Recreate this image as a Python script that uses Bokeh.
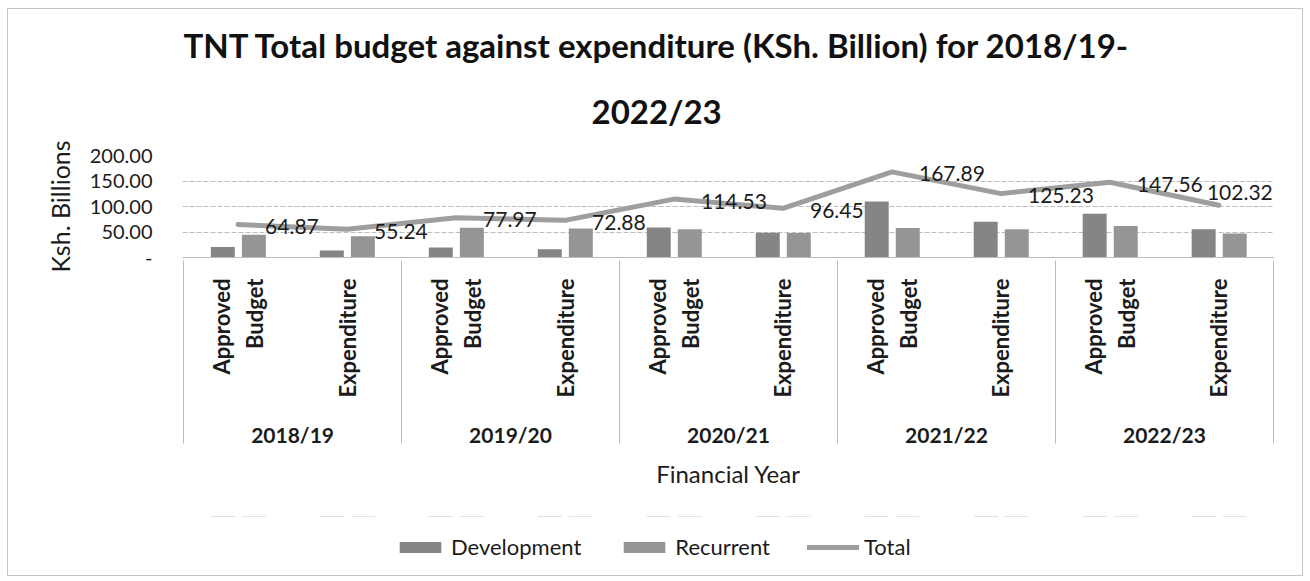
import math
from bokeh.plotting import figure
from bokeh.layouts import column
from bokeh.core.properties import value
from bokeh.models import (FactorRange, Range1d, ColumnDataSource, LabelSet, Legend, LegendItem,
                          FixedTicker, Title)
from bokeh.transform import dodge
from bokeh.embed import file_html
from bokeh.resources import INLINE

# ---------------- data ----------------
years = ["2018/19", "2019/20", "2020/21", "2021/22", "2022/23"]
stages = ["Approved\nBudget", "Expenditure"]
development = [20.5, 13.5, 19.5, 16.0, 59.0, 48.5, 110.0, 70.0, 86.0, 55.5]
recurrent = [44.37, 41.74, 58.47, 56.88, 55.53, 47.95, 57.89, 55.23, 61.56, 46.82]
total = [64.87, 55.24, 77.97, 72.88, 114.53, 96.45, 167.89, 125.23, 147.56, 102.32]
y_ticks = [0, 50, 100, 150, 200]
y_tick_labels = ["-", "50.00", "100.00", "150.00", "200.00"]
title_lines = ["TNT Total budget against expenditure (KSh. Billion) for 2018/19-", "2022/23"]
series_names = ["Development", "Recurrent", "Total"]

# label offsets (style): the last label is lifted and pulled in to stay inside the plot
label_dx = [27, 27, 27, 27, 27, 27, 27, 27, 27, -12]
label_dy = [-2, -2, -2, -2, -2, -2, -2, -2, -2, 13]

FONT = "Lato"
TXT = "#1b1b1b"
GRID = "#bdbdbd"
BORDER = "1px solid #c4c4c4"
DEV_C, REC_C, TOT_C = "#858585", "#959595", "#9e9e9e"

factors = [(y, s) for y in years for s in stages]
# empty outer groups (cropped away by negative padding) give the outer boundary lines
range_factors = [("", " ")] + factors + [("  ", " ")]

source = ColumnDataSource(dict(
    x=factors, dev=development, rec=recurrent, total=total,
    label=[f"{t:.2f}" for t in total], dx=label_dx, dy=label_dy,
))

x_range = FactorRange(*range_factors, factor_padding=0, group_padding=0,
                      range_padding=-0.99, range_padding_units="absolute")

p = figure(
    width=1296, height=508, output_backend="svg", toolbar_location=None,
    x_range=x_range, y_range=Range1d(0, 200),
    min_border_left=174, min_border_right=30, min_border_top=146, min_border_bottom=260,
    title=title_lines[0],
)
p.styles = {"border-left": BORDER, "border-right": BORDER, "border-top": BORDER}
p.outline_line_color = None
p.background_fill_color = "white"
p.border_fill_color = "white"

# title: two centred lines
p.title.align = "left"
p.title.offset = 1
p.title.text_font = FONT
p.title.text_font_size = "33px"
p.title.text_font_style = "bold"
p.title.text_color = "#111111"
p.title.standoff = 0
p.add_layout(Title(text=title_lines[1], align="left", offset=409, text_font=FONT,
                   text_font_size="33px", text_font_style="bold", text_color="#111111",
                   standoff=49), "above")


def draw_series(fig):
    r1 = fig.vbar(x=dodge("x", -0.14, range=x_range), top="dev", width=0.22, source=source,
                  fill_color=DEV_C, line_color=None)
    r2 = fig.vbar(x=dodge("x", 0.145, range=x_range), top="rec", width=0.22, source=source,
                  fill_color=REC_C, line_color=None)
    r3 = fig.line(x="x", y="total", source=source, line_width=5, line_color=TOT_C,
                  line_join="round", line_cap="round")
    return r1, r2, r3


draw_series(p)

labels = LabelSet(x="x", y="total", text="label", source=source, x_offset="dx", y_offset="dy",
                  text_baseline="middle", text_align="left", text_font=value(FONT),
                  text_font_size=value("21px"), text_color=TXT)
p.add_layout(labels)

# y axis
ya = p.yaxis[0]
ya.ticker = FixedTicker(ticks=y_ticks)
ya.major_label_overrides = dict(zip(y_ticks, y_tick_labels))
ya.axis_line_color = None
ya.major_tick_line_color = None
ya.minor_tick_line_color = None
ya.major_tick_out = 0
ya.minor_tick_out = 0
ya.major_label_standoff = 30
ya.major_label_text_font = FONT
ya.major_label_text_font_size = "20px"
ya.major_label_text_color = TXT
ya.axis_label = "Ksh. Billions"
ya.axis_label_text_font = FONT
ya.axis_label_text_font_size = "25px"
ya.axis_label_text_font_style = "normal"
ya.axis_label_text_color = TXT
ya.axis_label_standoff = 12

p.ygrid[0].ticker = FixedTicker(ticks=y_ticks)
p.ygrid[0].grid_line_color = GRID
p.ygrid[0].grid_line_dash = "5 2"
p.xgrid[0].visible = False

# x axis: stage labels, year labels, boundary lines, title
xa = p.xaxis[0]
xa.major_label_orientation = math.pi / 2
xa.major_label_text_font = FONT
xa.major_label_text_font_size = "22px"
xa.major_label_text_font_style = "bold"
xa.major_label_text_color = TXT
xa.major_label_text_line_height = 1.2
xa.major_label_standoff = 21
xa.major_tick_line_color = None
xa.major_tick_out = 0
xa.major_tick_in = 0
xa.group_text_font = FONT
xa.group_text_font_size = "21px"
xa.group_text_font_style = "bold"
xa.group_text_color = TXT
xa.separator_line_color = GRID
xa.separator_line_width = 1
xa.axis_line_color = GRID
xa.axis_label = "Financial Year"
xa.axis_label_text_font = FONT
xa.axis_label_text_font_size = "24px"
xa.axis_label_text_font_style = "normal"
xa.axis_label_text_color = TXT
xa.axis_label_standoff = 9

# legend strip: same series drawn out of view so the legend shows their swatches
lf = figure(width=1296, height=60, output_backend="svg", toolbar_location=None,
            x_range=x_range, y_range=Range1d(-2, -1), min_border=0,
            x_axis_location=None, y_axis_location=None)
lf.styles = {"border-left": BORDER, "border-right": BORDER, "border-bottom": BORDER}
lf.outline_line_color = None
lf.grid.visible = False
lf.background_fill_color = "white"
lf.border_fill_color = "white"
g_dev, g_rec, g_tot = draw_series(lf)
legend = Legend(items=[
    LegendItem(label=series_names[0], renderers=[g_dev]),
    LegendItem(label=series_names[1], renderers=[g_rec]),
    LegendItem(label=series_names[2], renderers=[g_tot]),
], orientation="horizontal", location=(212, 16), glyph_width=52, glyph_height=14,
    label_text_font=FONT, label_text_font_size="22px", label_text_color=TXT,
    spacing=37, label_standoff=5, border_line_color=None, background_fill_alpha=0,
    margin=0, padding=4)
lf.add_layout(legend)

layout = column(p, lf, spacing=0, styles={"margin-left": "7px", "margin-top": "8px"})

open("out.html", "w").write(file_html(layout, INLINE))
